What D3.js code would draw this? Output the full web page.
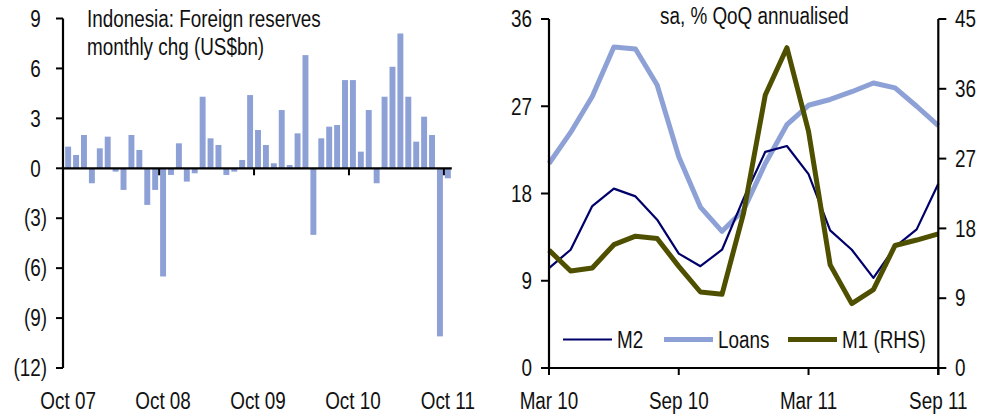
<!DOCTYPE html>
<html>
<head>
<meta charset="utf-8">
<script src="https://cdn.jsdelivr.net/npm/d3@7/dist/d3.min.js"></script>
<style>
  html, body { margin: 0; padding: 0; background: #fff; }
  svg { display: block; }
  text { fill: #111; }
</style>
</head>
<body>
<svg id="chart" width="994" height="415"></svg>
<script>
// ---- Left panel: Indonesia foreign reserves, monthly change (US$bn) ----
const reserveMonths = [
  "Oct 07","Nov 07","Dec 07","Jan 08","Feb 08","Mar 08","Apr 08","May 08","Jun 08","Jul 08","Aug 08","Sep 08",
  "Oct 08","Nov 08","Dec 08","Jan 09","Feb 09","Mar 09","Apr 09","May 09","Jun 09","Jul 09","Aug 09","Sep 09",
  "Oct 09","Nov 09","Dec 09","Jan 10","Feb 10","Mar 10","Apr 10","May 10","Jun 10","Jul 10","Aug 10","Sep 10",
  "Oct 10","Nov 10","Dec 10","Jan 11","Feb 11","Mar 11","Apr 11","May 11","Jun 11","Jul 11","Aug 11","Sep 11",
  "Oct 11"
];
const reserveChange = [
  1.3, 0.8, 2.0, -0.9, 1.2, 1.9, -0.2, -1.3, 2.0, 1.1, -2.2, -1.3,
  -6.5, -0.4, 1.5, -0.8, -0.3, 4.3, 1.8, 1.4, -0.4, -0.2, 0.5, 4.4,
  2.3, 1.4, 0.3, 3.5, 0.2, 2.1, 6.8, -4.0, 1.8, 2.5, 2.6, 5.3,
  5.3, 1.0, 3.5, -0.9, 4.3, 6.1, 8.1, 4.3, 1.6, 3.1, 2.0, -10.1,
  -0.6
];
const reserveTicksY = [9, 6, 3, 0, -3, -6, -9, -12];
const reserveTicksX = ["Oct 07", "Oct 08", "Oct 09", "Oct 10", "Oct 11"];

// ---- Right panel: money and credit growth, sa, % QoQ annualised ----
const growthMonths = [
  "Mar 10","Apr 10","May 10","Jun 10","Jul 10","Aug 10","Sep 10","Oct 10","Nov 10","Dec 10",
  "Jan 11","Feb 11","Mar 11","Apr 11","May 11","Jun 11","Jul 11","Aug 11","Sep 11"
];
const m2Growth    = [10.3, 12.2, 16.7, 18.5, 17.7, 15.3, 11.8, 10.5, 12.2, 17.5, 22.3, 22.9, 20.0, 14.2, 12.2, 9.3, 12.5, 14.3, 19.0];
const loansGrowth = [21.1, 24.3, 28.0, 33.1, 32.9, 29.2, 21.8, 16.6, 14.1, 16.3, 21.1, 25.1, 27.1, 27.7, 28.5, 29.4, 28.9, 27.0, 25.0];
const m1Growth    = [15.2, 12.5, 12.9, 15.9, 17.0, 16.7, 13.1, 9.8, 9.5, 20.0, 35.2, 41.3, 30.5, 13.3, 8.3, 10.1, 15.8, 16.5, 17.3];
const growthTicksLeft  = [0, 9, 18, 27, 36];
const growthTicksRight = [0, 9, 18, 27, 36, 45];
const growthTicksX = ["Mar 10", "Sep 10", "Mar 11", "Sep 11"];

const seriesNames = ["M2", "Loans", "M1 (RHS)"];

// ---- Styling ----
const BAR = "#8EA1D6";
const NAVY = "#00006B";
const OLIVE = "#4F4F00";
const FS = 23;

// Prefer a narrow sans; if it is missing, squeeze the regular face instead.
const ctx = document.createElement("canvas").getContext("2d");
ctx.font = `${FS}px "Liberation Sans Narrow", monospace`;
const wNarrow = ctx.measureText("Oct 07 Indonesia reserves").width;
ctx.font = `${FS}px monospace`;
const wMono = ctx.measureText("Oct 07 Indonesia reserves").width;
const hasNarrow = Math.abs(wNarrow - wMono) > 0.5;
const FONT = hasNarrow ? '"Liberation Sans Narrow", "Arial Narrow", sans-serif' : '"Liberation Sans", Arial, sans-serif';

const svg = d3.select("#chart")
  .attr("font-family", FONT)
  .attr("font-size", FS);

function squeeze(sel) {
  if (hasNarrow) return;
  sel.each(function () {
    const w = this.getComputedTextLength();
    d3.select(this).attr("textLength", w * 0.82).attr("lengthAdjust", "spacingAndGlyphs");
  });
}

// ================= Left panel =================
const L = { x0: 64.2, x1: 451.8, axisX: 63, yTop: 18.5, yBot: 368 };

const xBand = d3.scaleBand()
  .domain(reserveMonths)
  .range([L.x0, L.x1])
  .paddingInner(0.25)
  .paddingOuter(0.125);
const yRes = d3.scaleLinear().domain([-12, 9]).range([L.yBot, L.yTop]);
const step = xBand.step();
const boundary = m => L.x0 + reserveMonths.indexOf(m) * step;

const left = svg.append("g");

left.append("g").selectAll("rect")
  .data(reserveMonths.map((m, i) => ({ m, v: reserveChange[i] })))
  .join("rect")
  .attr("x", d => xBand(d.m))
  .attr("width", xBand.bandwidth())
  .attr("y", d => yRes(Math.max(0, d.v)))
  .attr("height", d => Math.abs(yRes(d.v) - yRes(0)))
  .attr("fill", BAR);

// y axis
left.append("line")
  .attr("x1", L.axisX).attr("x2", L.axisX)
  .attr("y1", yRes(9)).attr("y2", yRes(-12))
  .attr("stroke", "#000").attr("stroke-width", 2.2);
left.append("g").selectAll("line")
  .data(reserveTicksY).join("line")
  .attr("x1", L.axisX - 7).attr("x2", L.axisX)
  .attr("y1", d => yRes(d)).attr("y2", d => yRes(d))
  .attr("stroke", "#000").attr("stroke-width", 2);

// paren width so positive labels line up with the digits of negative ones
const probe = svg.append("text").text(")");
let parenW = probe.node().getComputedTextLength();
if (!hasNarrow) parenW *= 0.82;
probe.remove();

const yLab = left.append("g").selectAll("text")
  .data(reserveTicksY).join("text")
  .attr("x", d => d < 0 ? 47 : 47 - parenW)
  .attr("y", d => yRes(d))
  .attr("dy", "0.36em")
  .attr("text-anchor", "end")
  .text(d => d < 0 ? `(${-d})` : `${d}`);
squeeze(yLab);

// zero line with month ticks at category boundaries
left.append("line")
  .attr("x1", L.axisX).attr("x2", L.x1)
  .attr("y1", yRes(0)).attr("y2", yRes(0))
  .attr("stroke", "#000").attr("stroke-width", 2.2);
left.append("g").selectAll("line")
  .data(reserveTicksX.slice(1)).join("line")
  .attr("x1", d => boundary(d)).attr("x2", d => boundary(d))
  .attr("y1", yRes(0)).attr("y2", yRes(0) + 7)
  .attr("stroke", "#000").attr("stroke-width", 2);

const xLab = left.append("g").selectAll("text")
  .data(reserveTicksX).join("text")
  .attr("x", d => boundary(d) + step / 2)
  .attr("y", 409)
  .attr("text-anchor", "middle")
  .text(d => d);
squeeze(xLab);

const lt = left.append("text").attr("x", 87).attr("y", 27);
lt.append("tspan").attr("x", 87).attr("y", 27).text("Indonesia: Foreign reserves");
lt.append("tspan").attr("x", 87).attr("y", 54.5).text("monthly chg (US$bn)");
if (!hasNarrow) lt.selectAll("tspan").each(function () {
  const w = this.getComputedTextLength();
  d3.select(this).attr("textLength", w * 0.82).attr("lengthAdjust", "spacingAndGlyphs");
});

// ================= Right panel =================
const R = { xL: 549, xR: 938.3, yTop: 19, yBot: 368 };

const xPt = d3.scalePoint().domain(growthMonths).range([R.xL, R.xR]);
const yLHS = d3.scaleLinear().domain([0, 36]).range([R.yBot, R.yTop]);
const yRHS = d3.scaleLinear().domain([0, 45]).range([R.yBot, R.yTop]);

const right = svg.append("g");

const lineL = d3.line().x((d, i) => xPt(growthMonths[i])).y(d => yLHS(d));
const lineR = d3.line().x((d, i) => xPt(growthMonths[i])).y(d => yRHS(d));

right.append("path").attr("d", lineL(loansGrowth))
  .attr("fill", "none").attr("stroke", BAR).attr("stroke-width", 5).attr("stroke-linejoin", "round");
right.append("path").attr("d", lineL(m2Growth))
  .attr("fill", "none").attr("stroke", NAVY).attr("stroke-width", 2.2).attr("stroke-linejoin", "round");
right.append("path").attr("d", lineR(m1Growth))
  .attr("fill", "none").attr("stroke", OLIVE).attr("stroke-width", 5).attr("stroke-linejoin", "round");

// axes
const axisStroke = g => g.attr("stroke", "#000");
right.append("line").attr("x1", R.xL).attr("x2", R.xL).attr("y1", R.yTop).attr("y2", R.yBot)
  .call(axisStroke).attr("stroke-width", 2.2);
right.append("line").attr("x1", R.xR).attr("x2", R.xR).attr("y1", R.yTop).attr("y2", R.yBot + 7)
  .call(axisStroke).attr("stroke-width", 2.2);
right.append("line").attr("x1", R.xL).attr("x2", R.xR).attr("y1", R.yBot).attr("y2", R.yBot)
  .call(axisStroke).attr("stroke-width", 2.2);

right.append("g").selectAll("line").data(growthTicksLeft).join("line")
  .attr("x1", R.xL - 8).attr("x2", R.xL).attr("y1", d => yLHS(d)).attr("y2", d => yLHS(d))
  .call(axisStroke).attr("stroke-width", 2);
right.append("g").selectAll("line").data(growthTicksRight).join("line")
  .attr("x1", R.xR).attr("x2", R.xR + 8).attr("y1", d => yRHS(d)).attr("y2", d => yRHS(d))
  .call(axisStroke).attr("stroke-width", 2);
right.append("g").selectAll("line").data(growthTicksX).join("line")
  .attr("x1", d => xPt(d)).attr("x2", d => xPt(d)).attr("y1", R.yBot).attr("y2", R.yBot + 7)
  .call(axisStroke).attr("stroke-width", 2);

const lLab = right.append("g").selectAll("text").data(growthTicksLeft).join("text")
  .attr("x", 532).attr("y", d => yLHS(d)).attr("dy", "0.36em").attr("text-anchor", "end")
  .text(d => d);
squeeze(lLab);
const rLab = right.append("g").selectAll("text").data(growthTicksRight).join("text")
  .attr("x", 955).attr("y", d => yRHS(d)).attr("dy", "0.36em").attr("text-anchor", "start")
  .text(d => d);
squeeze(rLab);
const bLab = right.append("g").selectAll("text").data(growthTicksX).join("text")
  .attr("x", d => xPt(d)).attr("y", 409).attr("text-anchor", "middle")
  .text(d => d);
squeeze(bLab);

const rt = right.append("text").attr("x", 660).attr("y", 24).text("sa, % QoQ annualised");
squeeze(rt);

// legend
const legend = [
  { name: seriesNames[0], color: NAVY,  width: 2.2, x: 563 },
  { name: seriesNames[1], color: BAR,   width: 5,   x: 664 },
  { name: seriesNames[2], color: OLIVE, width: 5,   x: 788 }
];
const lg = right.append("g").selectAll("g").data(legend).join("g")
  .attr("transform", d => `translate(${d.x},339.5)`);
lg.append("line").attr("x1", 0).attr("x2", 49).attr("y1", 0).attr("y2", 0)
  .attr("stroke", d => d.color).attr("stroke-width", d => d.width);
const lgText = lg.append("text").attr("x", 54).attr("y", 0).attr("dy", "0.36em").text(d => d.name);
squeeze(lgText);
</script>
</body>
</html>
